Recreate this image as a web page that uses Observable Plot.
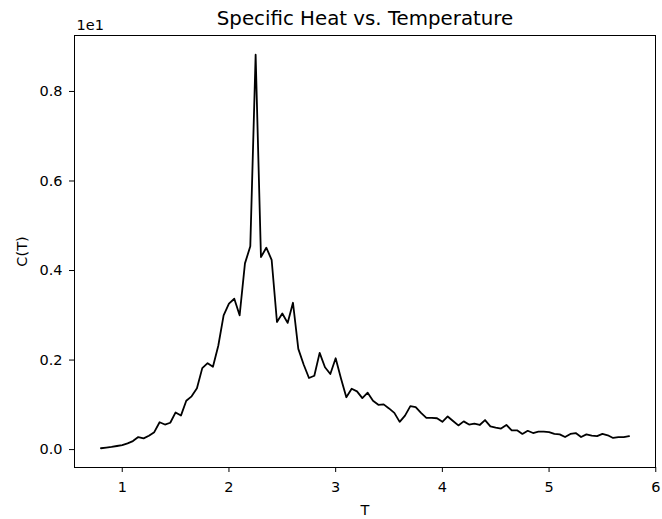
<!DOCTYPE html>
<html>
<head>
<meta charset="utf-8">
<script src="https://cdn.jsdelivr.net/npm/d3@7"></script>
<script src="https://cdn.jsdelivr.net/npm/@observablehq/plot@0.6"></script>
<style>
  html, body { margin: 0; padding: 0; background: white; }
</style>
</head>
<body>
<div id="chart"></div>
<script>
const titleText = "Specific Heat vs. Temperature";
const xLabel = "T";
const yLabel = "C(T)";
const yOffsetText = "1e1";

const xTicks = [1, 2, 3, 4, 5, 6];
const yTicks = [0, 2, 4, 6, 8];

const temps = [
  0.80, 0.85, 0.90, 0.95, 1.00, 1.05, 1.10, 1.15, 1.20, 1.25,
  1.30, 1.35, 1.40, 1.45, 1.50, 1.55, 1.60, 1.65, 1.70, 1.75,
  1.80, 1.85, 1.90, 1.95, 2.00, 2.05, 2.10, 2.15, 2.20, 2.25,
  2.30, 2.35, 2.40, 2.45, 2.50, 2.55, 2.60, 2.65, 2.70, 2.75,
  2.80, 2.85, 2.90, 2.95, 3.00, 3.05, 3.10, 3.15, 3.20, 3.25,
  3.30, 3.35, 3.40, 3.45, 3.50, 3.55, 3.60, 3.65, 3.70, 3.75,
  3.80, 3.85, 3.90, 3.95, 4.00, 4.05, 4.10, 4.15, 4.20, 4.25,
  4.30, 4.35, 4.40, 4.45, 4.50, 4.55, 4.60, 4.65, 4.70, 4.75,
  4.80, 4.85, 4.90, 4.95, 5.00, 5.05, 5.10, 5.15, 5.20, 5.25,
  5.30, 5.35, 5.40, 5.45, 5.50, 5.55, 5.60, 5.65, 5.70, 5.75
];

const heat = [
  0.03, 0.045, 0.06, 0.08, 0.10, 0.14, 0.19, 0.28, 0.25, 0.31,
  0.39, 0.61, 0.56, 0.60, 0.83, 0.76, 1.09, 1.19, 1.37, 1.82,
  1.93, 1.85, 2.32, 3.00, 3.26, 3.37, 3.00, 4.16, 4.54, 8.82,
  4.30, 4.51, 4.24, 2.85, 3.04, 2.83, 3.28, 2.25, 1.90, 1.60,
  1.65, 2.16, 1.84, 1.69, 2.04, 1.59, 1.17, 1.36, 1.30, 1.15,
  1.27, 1.09, 1.00, 1.01, 0.92, 0.82, 0.62, 0.76, 0.97, 0.95,
  0.82, 0.71, 0.71, 0.70, 0.62, 0.74, 0.64, 0.54, 0.63, 0.56,
  0.58, 0.55, 0.66, 0.52, 0.49, 0.47, 0.55, 0.43, 0.43, 0.35,
  0.42, 0.37, 0.40, 0.40, 0.39, 0.35, 0.34, 0.28, 0.35, 0.37,
  0.28, 0.34, 0.31, 0.30, 0.35, 0.32, 0.26, 0.28, 0.28, 0.30
];

const rows = temps.map((t, i) => ({T: t, C: heat[i]}));

const chart = Plot.plot({
  width: 662,
  height: 519,
  marginLeft: 74,
  marginRight: 7,
  marginTop: 35,
  marginBottom: 52,
  style: {
    fontFamily: "'DejaVu Sans', sans-serif",
    fontSize: "14.5px",
    color: "black",
    background: "white"
  },
  x: {domain: [0.5525, 5.9975]},
  y: {domain: [-0.40, 9.25]},
  marks: [
    Plot.axisX({ticks: xTicks, tickFormat: d => String(d), tickSize: 5, tickPadding: 9, label: null, stroke: "black"}),
    Plot.axisY({ticks: yTicks, tickFormat: d => (d / 10).toFixed(1), tickSize: 5, tickPadding: 7, label: null, stroke: "black"}),
    Plot.line(rows, {x: "T", y: "C", stroke: "black", strokeWidth: 1.8}),
    Plot.frame({stroke: "black", strokeWidth: 1}),
    Plot.text([titleText], {text: d => d, frameAnchor: "top", lineAnchor: "middle", textAnchor: "middle", dy: -16.5, fontSize: 19.8}),
    Plot.text([yOffsetText], {text: d => d, frameAnchor: "top-left", lineAnchor: "middle", textAnchor: "start", dx: 2, dy: -10}),
    Plot.text([xLabel], {text: d => d, frameAnchor: "bottom", lineAnchor: "middle", textAnchor: "middle", dy: 42.5}),
    Plot.text([yLabel], {text: d => d, frameAnchor: "left", lineAnchor: "middle", textAnchor: "middle", dx: -52, rotate: -90})
  ]
});

document.getElementById("chart").appendChild(chart);
</script>
</body>
</html>
